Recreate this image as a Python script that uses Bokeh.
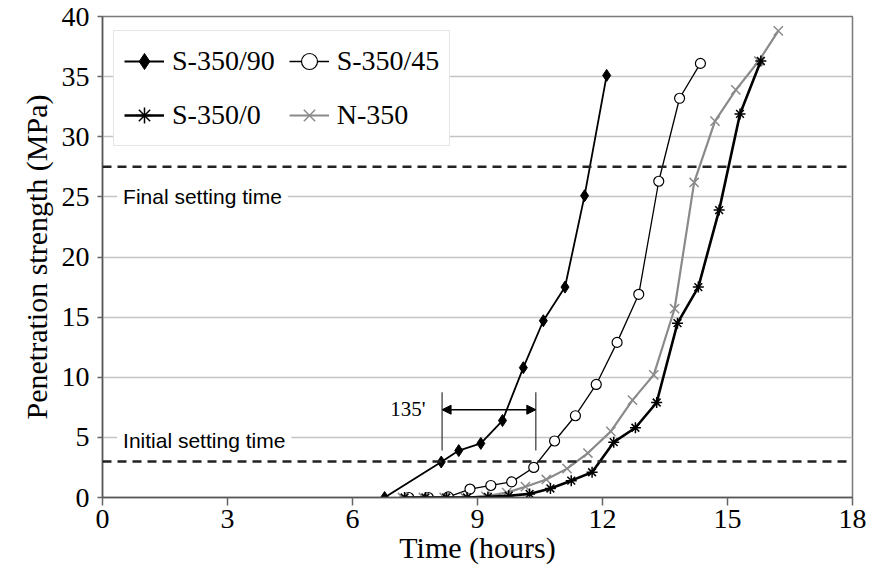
from bokeh.plotting import figure
from bokeh.models import (Legend, LegendItem, Span, Label, FixedTicker,
                          Range1d, Segment, Arrow, NormalHead, ColumnDataSource)
from bokeh.embed import file_html
from bokeh.resources import INLINE

# Penetration resistance vs. elapsed time for four mixes
t_s90 = [6.77, 8.13, 8.55, 9.08, 9.6, 10.1, 10.58, 11.1, 11.57, 12.1]
p_s90 = [0.0, 2.95, 3.9, 4.5, 6.4, 10.8, 14.7, 17.5, 25.1, 35.1]

t_s45 = [7.35, 7.82, 8.3, 8.82, 9.32, 9.82, 10.35, 10.85, 11.35, 11.85,
         12.35, 12.87, 13.35, 13.85, 14.35]
p_s45 = [0.0, 0.0, 0.05, 0.7, 1.0, 1.3, 2.5, 4.7, 6.8, 9.4,
         12.9, 16.9, 26.3, 33.2, 36.1]

t_s0 = [7.25, 7.75, 8.25, 8.75, 9.25, 9.75, 10.25, 10.75, 11.25, 11.75,
        12.27, 12.79, 13.3, 13.8, 14.3, 14.8, 15.3, 15.8]
p_s0 = [0.0, 0.0, 0.0, 0.0, 0.05, 0.15, 0.3, 0.75, 1.4, 2.1,
        4.6, 5.8, 7.9, 14.5, 17.5, 23.9, 31.9, 36.3]

t_n = [7.2, 7.7, 8.2, 8.7, 9.2, 9.7, 10.15, 10.65, 11.15, 11.65,
       12.2, 12.72, 13.23, 13.73, 14.2, 14.7, 15.2, 15.75, 16.22]
p_n = [0.0, 0.0, 0.0, 0.0, 0.1, 0.4, 0.9, 1.5, 2.4, 3.7,
       5.5, 8.1, 10.2, 15.7, 26.2, 31.3, 33.9, 36.3, 38.8]

x_ticks = [0, 3, 6, 9, 12, 15, 18]
y_ticks = [0, 5, 10, 15, 20, 25, 30, 35, 40]

initial_set = 3.0    # MPa
final_set = 27.5     # MPa
delay_start = 8.15   # h, initial set of S-350/90
delay_minutes = 135

SERIF = "Liberation Serif"
SANS = "Liberation Sans"
GREY = "#8a8a8a"

p = figure(width=877, height=582, output_backend="svg", toolbar_location=None,
           x_range=Range1d(0, 18), y_range=Range1d(0, 40),
           min_border_left=102, min_border_right=25,
           min_border_top=16, min_border_bottom=85)
p.outline_line_color = "#7a7a7a"
p.outline_line_width = 1.5
p.background_fill_color = "white"
p.border_fill_color = "white"

p.xgrid.visible = False
p.ygrid.grid_line_color = "#c4c4c4"
p.ygrid.grid_line_width = 1.5

p.xaxis.ticker = FixedTicker(ticks=x_ticks)
p.yaxis.ticker = FixedTicker(ticks=y_ticks)
for ax in (p.xaxis[0], p.yaxis[0]):
    ax.axis_line_color = "#555555"
    ax.axis_line_width = 1.5
    ax.major_tick_line_color = "#666666"
    ax.major_tick_line_width = 1.5
    ax.minor_tick_line_color = None
    ax.major_label_text_font = SERIF
    ax.major_label_text_font_size = "28px"
    ax.major_label_text_color = "black"
    ax.axis_label_text_font = SERIF
    ax.axis_label_text_font_size = "30px"
    ax.axis_label_text_font_style = "normal"
    ax.axis_label_text_color = "black"

p.xaxis.major_tick_out = 8
p.xaxis.major_tick_in = 0
p.xaxis.major_label_standoff = 4
p.xaxis.axis_label = "Time (hours)"
p.xaxis.axis_label_standoff = 0

p.yaxis.major_tick_out = 5
p.yaxis.major_tick_in = 0
p.yaxis.major_label_standoff = 8
p.yaxis.axis_label = "Penetration strength (MPa)"
p.yaxis.axis_label_standoff = 6

# Setting-time thresholds
for lvl in (initial_set, final_set):
    p.add_layout(Span(location=lvl, dimension="width", line_color="#222222",
                      line_width=2.5, line_dash="9 6"))

p.add_layout(Label(x=0.35, y=25.0, text="Final setting time", text_font=SANS,
                   text_font_size="21px", text_color="black",
                   text_baseline="middle", background_fill_color="white",
                   padding=6))
p.add_layout(Label(x=0.35, y=4.75, text="Initial setting time", text_font=SANS,
                   text_font_size="21px", text_color="black",
                   text_baseline="middle", background_fill_color="white",
                   padding=6))

# Series
r90_l = p.line(t_s90, p_s90, line_color="black", line_width=1.8)
r90_m = p.scatter(t_s90, p_s90, marker="diamond", size=12,
                  fill_color="black", line_color="black")

r45_l = p.line(t_s45, p_s45, line_color="black", line_width=1.3)
r45_m = p.scatter(t_s45, p_s45, marker="circle", size=10,
                  fill_color="white", line_color="black", line_width=1.2)

rn_l = p.line(t_n, p_n, line_color=GREY, line_width=2.2)
rn_m = p.scatter(t_n, p_n, marker="x", size=13, line_color=GREY, line_width=1.5)

r0_l = p.line(t_s0, p_s0, line_color="black", line_width=2.6)
r0_m = p.scatter(t_s0, p_s0, marker="asterisk", size=11,
                 line_color="black", line_width=1.5)

# 135-minute delay marker
delay_end = delay_start + delay_minutes / 60.0
seg_src = ColumnDataSource(data=dict(x0=[delay_start, delay_end], y0=[3.9, 3.9],
                                     x1=[delay_start, delay_end], y1=[8.75, 8.75]))
p.add_glyph(seg_src, Segment(x0="x0", y0="y0", x1="x1", y1="y1",
                             line_color="#333333", line_width=1.2))
p.add_layout(Arrow(x_start=delay_start, y_start=7.3, x_end=delay_end, y_end=7.3,
                   line_color="black", line_width=1.5,
                   start=NormalHead(size=9, fill_color="black", line_color="black"),
                   end=NormalHead(size=9, fill_color="black", line_color="black")))
p.add_layout(Label(x=delay_start - 0.4, y=7.4, text=f"{delay_minutes}'",
                   text_font=SERIF, text_font_size="21px", text_color="black",
                   text_align="right", text_baseline="middle"))

# Two-column legend (filled column by column)
legend = Legend(items=[
    LegendItem(label="S-350/90", renderers=[r90_l, r90_m]),
    LegendItem(label="S-350/0", renderers=[r0_l, r0_m]),
    LegendItem(label="S-350/45", renderers=[r45_l, r45_m]),
    LegendItem(label="N-350", renderers=[rn_l, rn_m]),
], location=(11, 351))
legend.ncols = 2
legend.label_text_font = SERIF
legend.label_text_font_size = "28px"
legend.label_text_color = "black"
legend.glyph_width = 40
legend.glyph_height = 40
legend.label_standoff = 8
legend.padding = 10
legend.spacing = 14
legend.margin = 0
legend.border_line_color = "#cccccc"
legend.border_line_width = 1.5
legend.background_fill_color = "white"
legend.background_fill_alpha = 1.0
p.add_layout(legend, "center")

open("out.html", "w").write(file_html(p, INLINE))
